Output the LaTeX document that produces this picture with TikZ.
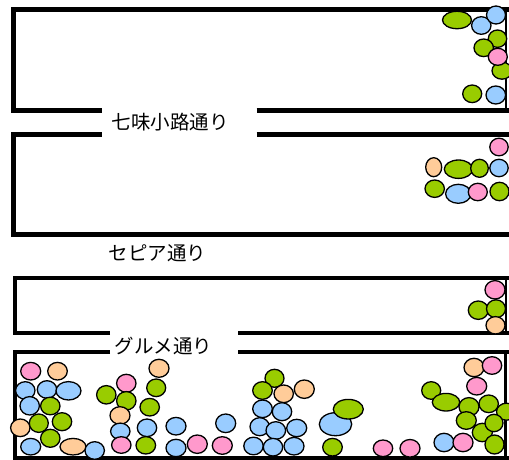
\documentclass[tikz,border=0pt]{standalone}
\usepackage{fontspec}
\newfontfamily\jpfont{Noto Sans CJK JP}
\definecolor{cgrn}{HTML}{99CC00}
\definecolor{cblu}{HTML}{99CCFF}
\definecolor{cpnk}{HTML}{FF99CC}
\definecolor{cpch}{HTML}{FFCC99}
\tikzset{
  wall/.style={line width=5pt},
  thinwall/.style={line width=4pt},
  rwall/.style={line width=2.5pt},
  ball/.style={draw=black,line width=1.3pt},
  grn/.style={ball,fill=cgrn},
  blu/.style={ball,fill=cblu},
  pnk/.style={ball,fill=cpnk},
  pch/.style={ball,fill=cpch},
  street/.style={font=\jpfont\fontsize{19.5}{22}\selectfont,inner sep=0pt}
}
\newcommand\myel[5]{\path[#1] (#2,#3) ellipse [x radius=#4pt, y radius=#5pt];}
\begin{document}
\begin{tikzpicture}[x=1pt,y=-1pt]
\useasboundingbox (0,0) rectangle (509,460);
\clip (0,0) rectangle (509,460);
% box 1
\draw[wall] (101.7,110.5) -- (13.5,110.5) -- (13.5,9.5) -- (512,9.5);
\draw[wall] (256.7,110.5) -- (512,110.5);
\draw[rwall] (506,9.5) -- (506,110.5);
% box 2
\draw[wall] (101.7,134.5) -- (13.5,134.5) -- (13.5,234.5) -- (512,234.5);
\draw[wall] (256.7,134.5) -- (512,134.5);
% box 3
\draw[thinwall] (110,333.3) -- (15.3,333.3) -- (15.3,278) -- (512,278);
\draw[thinwall] (238.3,333.3) -- (512,333.3);
\draw[rwall] (506,278) -- (506,333.3);
% box 4
\draw[thinwall] (110,351.7) -- (15.3,351.7) -- (15.3,458) -- (512,458);
\draw[thinwall] (238.3,351.7) -- (512,351.7);
\draw[line width=3pt] (505.5,351.7) -- (505.5,458);
% labels
\node[street] (s1) at (170,122) {七味小路通り};
\node[street] (s2) at (157.5,253.5) {セピア通り};
\node[street] (s3) at (163.3,346) {グルメ通り};
% box 1 balls
\myel{grn}{457}{20}{14.5}{8.7}
\myel{blu}{481.3}{25.5}{9.7}{8.8}
\myel{blu}{496}{15}{9.5}{9}
\myel{grn}{497.5}{38.7}{9.2}{8.7}
\myel{grn}{483.7}{47.8}{9.7}{8.8}
\myel{grn}{502}{70.7}{10}{8.5}
\myel{pnk}{497.8}{56.8}{9.5}{8.5}
\myel{grn}{472.2}{93.8}{9.5}{8.8}
\myel{blu}{495.8}{95}{9.8}{9}
% box 2 balls
\myel{pnk}{499}{147}{9.2}{8.8}
\myel{pch}{433.7}{167.2}{8}{9.5}
\myel{grn}{458.5}{169.2}{14.2}{9.2}
\myel{grn}{479.5}{168.3}{8.8}{9}
\myel{blu}{499}{168}{9.2}{8.7}
\myel{grn}{434.7}{188.7}{9.7}{8.7}
\myel{blu}{458.3}{193.8}{12.7}{9.5}
\myel{pnk}{477.8}{192}{9.5}{8.7}
\myel{grn}{499.5}{191.5}{9.5}{9.2}
% box 3 balls
\myel{pnk}{495}{289.8}{10}{9.2}
\myel{grn}{478.3}{310.2}{10}{9.2}
\myel{grn}{496}{308.8}{9.5}{9}
\myel{pch}{495.5}{325.3}{9.5}{8.7}
% box 4 balls
\myel{pnk}{30.7}{371.2}{10}{8.8}
\myel{pch}{57.5}{371.2}{9.8}{8.8}
\myel{blu}{25.3}{390.5}{9.7}{8.8}
\myel{blu}{47}{389.5}{9.7}{8.8}
\myel{blu}{68.5}{390.8}{12.5}{9.2}
\myel{blu}{29.7}{405.8}{9.7}{9.2}
\myel{grn}{50.3}{406}{9.7}{8.8}
\myel{pch}{20.3}{427.8}{9.7}{8.8}
\myel{grn}{38.8}{423.2}{9.5}{9.2}
\myel{grn}{62}{421.7}{9.7}{9}
\myel{grn}{50.3}{438.3}{9.7}{9}
\myel{blu}{30.7}{446.7}{10}{8.3}
\myel{pch}{73}{446.7}{13}{8.3}
\myel{blu}{94.7}{450.5}{9.7}{8.8}
\myel{grn}{106.3}{394.8}{9.7}{9.2}
\myel{pnk}{126.3}{383.3}{9.7}{9}
\myel{grn}{126.3}{400.8}{9.7}{9.2}
\myel{pch}{120}{415.5}{10}{8.8}
\myel{blu}{120.3}{431.3}{9.7}{8.2}
\myel{pnk}{121.3}{445}{9.7}{8.3}
\myel{pch}{159}{368.3}{10}{9}
\myel{grn}{156.2}{387.8}{9.5}{8.8}
\myel{grn}{149.7}{407.2}{9.7}{8.8}
\myel{blu}{147}{427.8}{9.7}{8.8}
\myel{grn}{145.8}{445.3}{9.8}{8.7}
\myel{blu}{176}{426.2}{10}{8.8}
\myel{blu}{176}{448}{10}{8.7}
\myel{pnk}{197.3}{444.2}{10}{9.2}
\myel{blu}{225.7}{423.3}{10}{9.3}
\myel{pnk}{222.3}{445.5}{10}{8.8}
\myel{grn}{274.5}{378.3}{9.5}{9}
\myel{grn}{262.5}{390.5}{9.8}{8.8}
\myel{pch}{283.7}{393.8}{9.7}{8.8}
\myel{pch}{304.3}{389.2}{10}{9.2}
\myel{blu}{262.5}{408.8}{9.8}{8.8}
\myel{blu}{282}{411.7}{9.7}{9}
\myel{blu}{259.7}{426.7}{9.7}{9}
\myel{blu}{275.8}{430.5}{9.8}{8.8}
\myel{blu}{296.7}{428}{10}{8.7}
\myel{blu}{253.5}{446}{9.7}{8.8}
\myel{blu}{273}{447.2}{9.7}{8.8}
\myel{blu}{294}{446.2}{10}{8.8}
\myel{blu}{335.5}{424.2}{16.2}{11.5}
\myel{grn}{348.3}{409.2}{15}{9.8}
\myel{grn}{332.5}{447.2}{9.8}{8.8}
\myel{pnk}{383}{448.3}{9.7}{8.3}
\myel{pnk}{410}{448.3}{10}{8.8}
\myel{pch}{474}{367.5}{10}{9.2}
\myel{pnk}{492}{365.5}{9.7}{8.8}
\myel{pnk}{476.7}{386.2}{10}{8.8}
\myel{grn}{431.2}{390.5}{9.5}{8.8}
\myel{grn}{446}{402.2}{13.7}{8.8}
\myel{grn}{506.5}{411.7}{10}{8.5}
\myel{grn}{469}{406.8}{10}{9.2}
\myel{grn}{488.7}{403.8}{9.7}{8.8}
\myel{grn}{466.3}{420.5}{10}{8.8}
\myel{grn}{482.3}{432.5}{10}{9.2}
\myel{grn}{494}{423}{9}{8.7}
\myel{blu}{444}{442.5}{10}{9.2}
\myel{pnk}{463}{442.5}{10}{9.2}
\myel{grn}{494.5}{444.5}{9.5}{9.5}
\end{tikzpicture}
\end{document}
